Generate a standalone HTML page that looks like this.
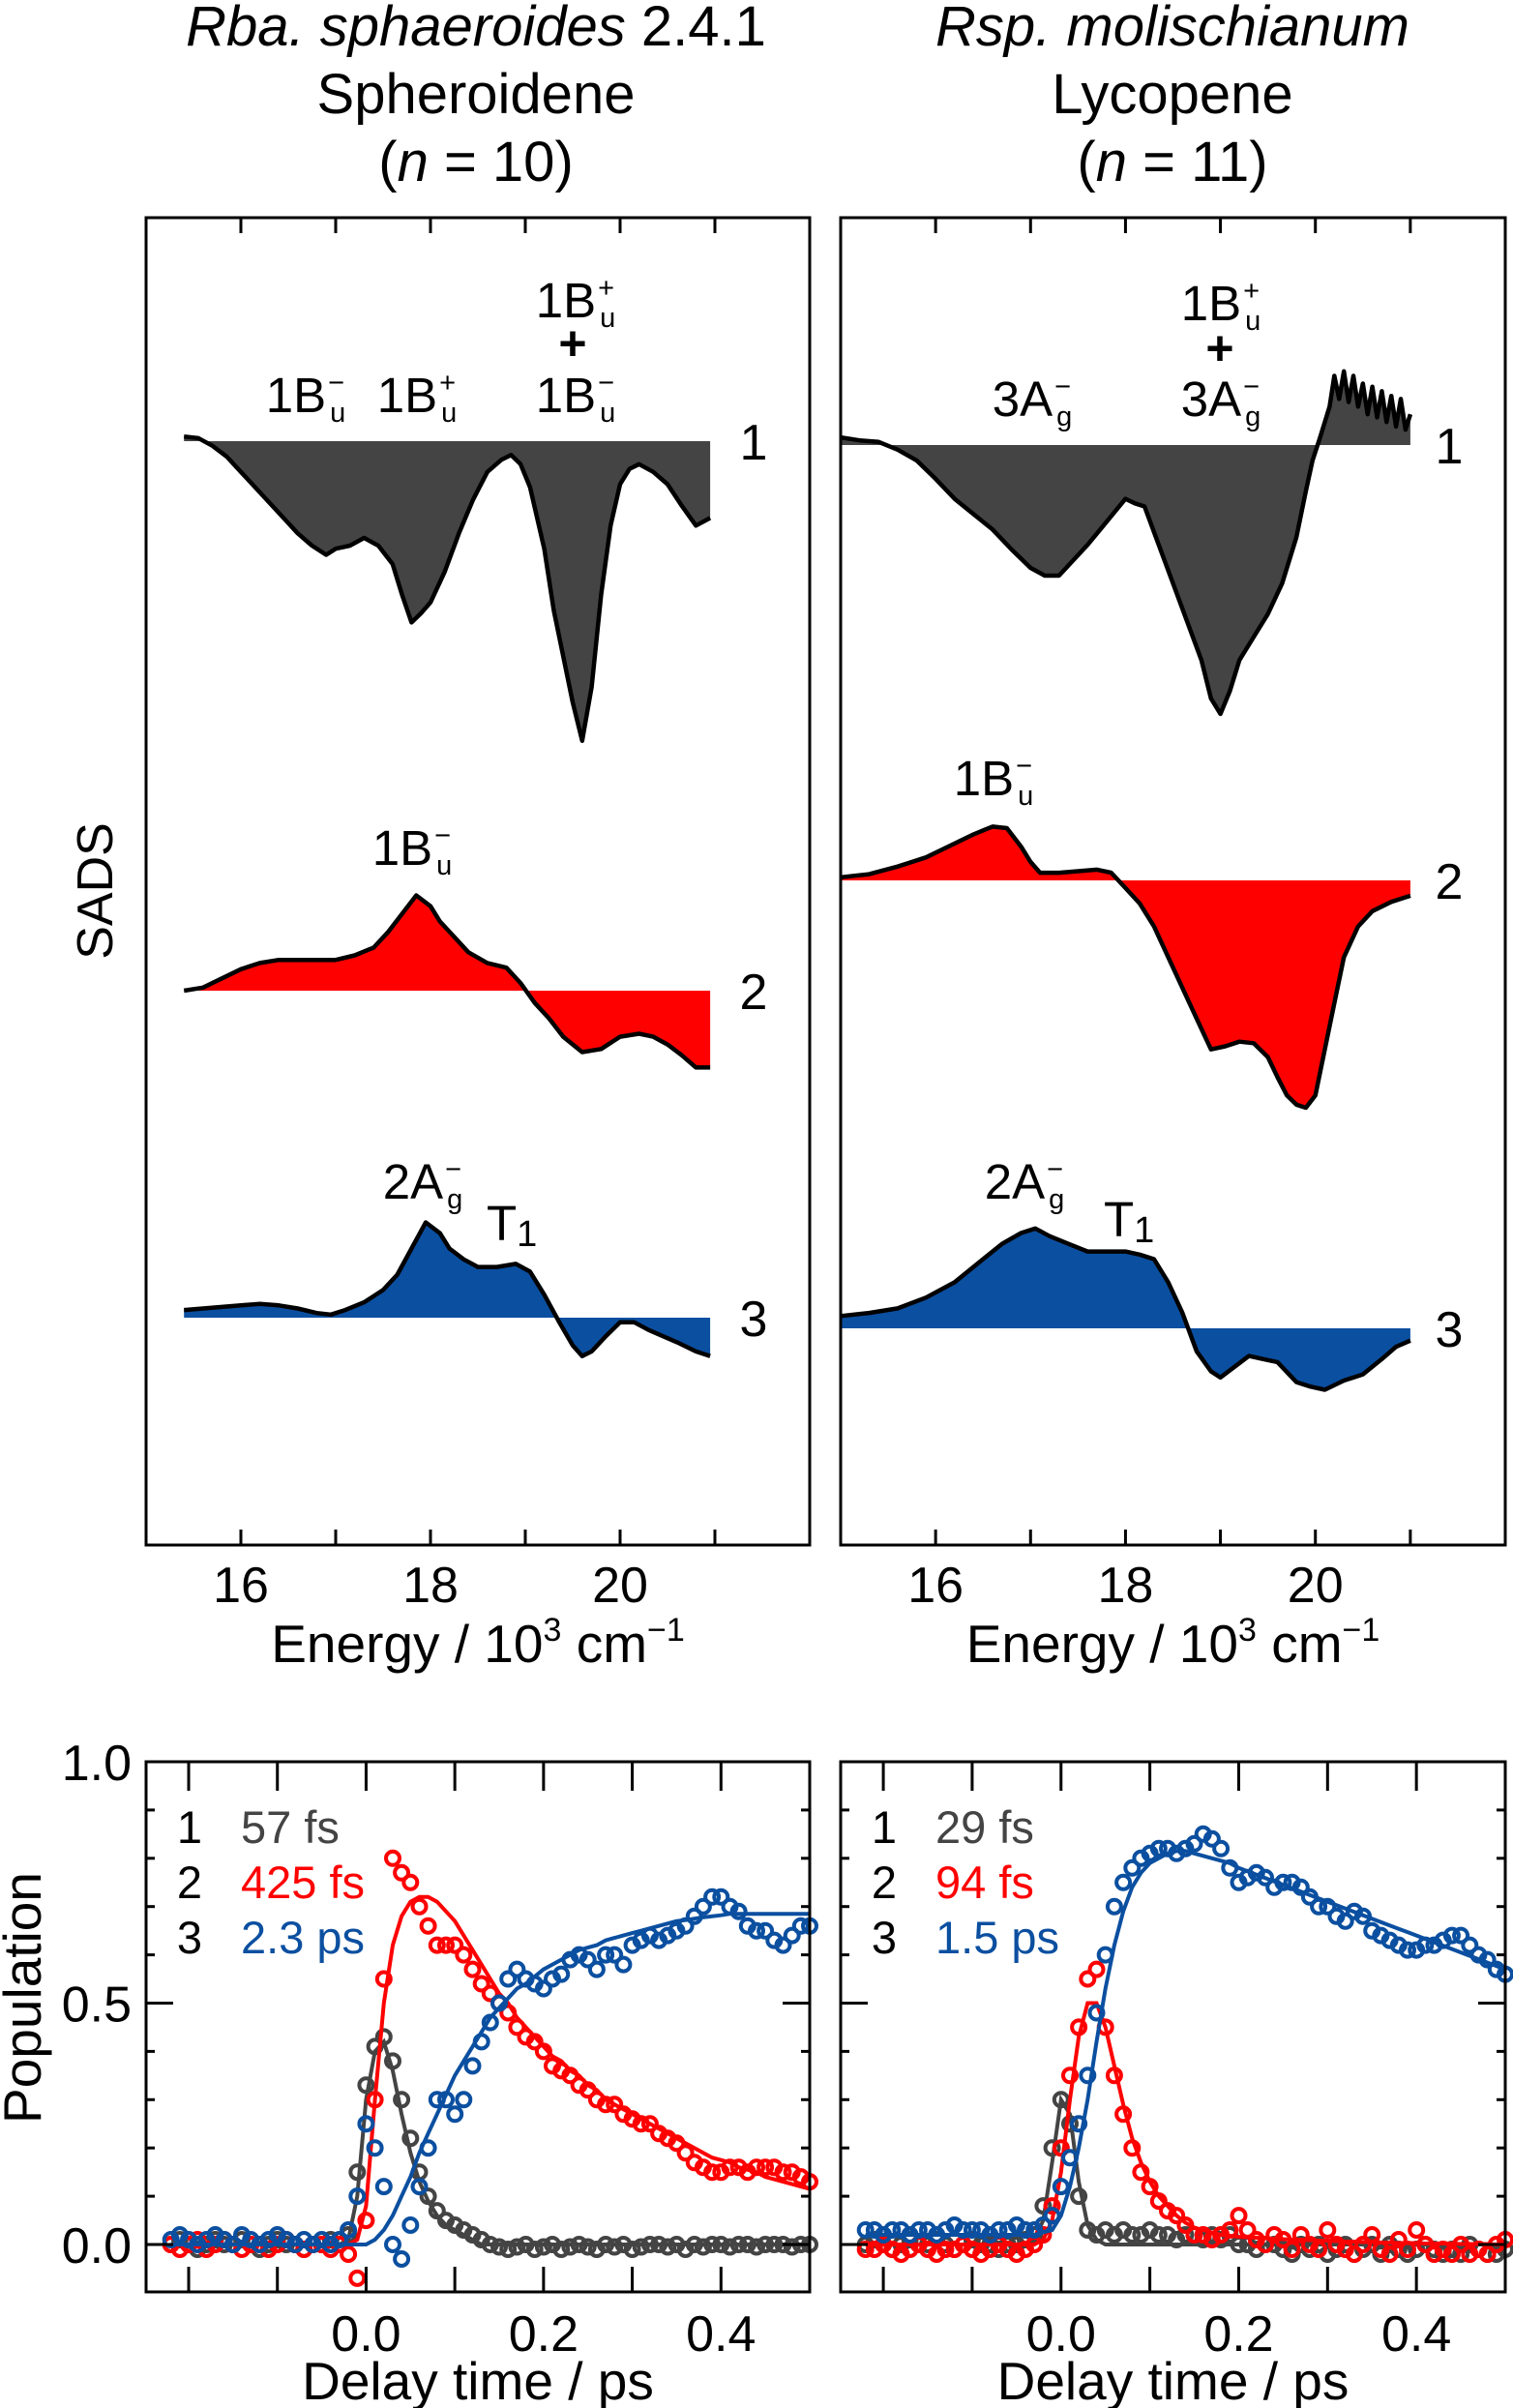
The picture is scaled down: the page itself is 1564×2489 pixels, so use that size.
<!DOCTYPE html>
<html><head><meta charset="utf-8"><style>
body{margin:0;background:#fff}
svg{display:block;font-family:"Liberation Sans",Arial,sans-serif}
</style></head><body>
<svg id="fig" width="1564" height="2489" viewBox="0 0 1564 2489" xmlns="http://www.w3.org/2000/svg">
<g font-size="58" text-anchor="middle">
<text x="492" y="47"><tspan font-style="italic">Rba. sphaeroides</tspan> 2.4.1</text>
<text x="492" y="117">Spheroidene</text>
<text x="492" y="187">(<tspan font-style="italic">n</tspan> = 10)</text>
</g>
<g font-size="58" text-anchor="middle">
<text x="1212" y="47" font-style="italic">Rsp. molischianum</text>
<text x="1212" y="117">Lycopene</text>
<text x="1212" y="187">(<tspan font-style="italic">n</tspan> = 11)</text>
</g>
<g id="plots"></g>
</svg>
<script>
// ===== SADS data (energy in 10^3 cm^-1, amplitude arbitrary units) =====
const L1E=[15.4,15.55,15.7,15.85,16.0,16.15,16.3,16.45,16.6,16.75,16.9,17.0,17.15,17.3,17.45,17.6,17.7,17.8,17.9,18.0,18.15,18.3,18.45,18.6,18.75,18.85,18.95,19.05,19.2,19.3,19.4,19.5,19.6,19.7,19.8,19.9,20.0,20.1,20.2,20.35,20.5,20.65,20.8,20.95];
const L1V=[3,2,-3,-10,-20,-30,-40,-50,-60,-68,-74,-70,-68,-63,-68,-80,-100,-118,-112,-105,-85,-60,-38,-20,-12,-9,-15,-30,-70,-110,-140,-170,-195,-160,-100,-55,-28,-18,-15,-20,-28,-42,-55,-50];
const L2E=[15.4,15.6,15.8,16.0,16.2,16.4,16.6,16.8,17.0,17.2,17.4,17.55,17.7,17.85,18.0,18.1,18.25,18.4,18.6,18.8,18.95,19.1,19.25,19.4,19.6,19.8,20.0,20.2,20.35,20.5,20.65,20.8,20.95];
const L2V=[0,2,8,14,18,20,20,20,20,23,28,38,50,62,55,45,35,25,18,15,5,-8,-18,-30,-40,-38,-30,-28,-30,-35,-42,-50,-50];
const L3E=[15.4,15.6,15.8,16.0,16.2,16.4,16.6,16.8,16.95,17.1,17.3,17.5,17.65,17.8,17.95,18.1,18.2,18.35,18.5,18.7,18.9,19.05,19.2,19.35,19.5,19.6,19.7,19.85,20.0,20.15,20.3,20.45,20.6,20.8,20.95];
const L3V=[5,6,7,8,9,8,6,3,2,5,10,18,28,45,62,55,45,38,33,33,35,30,15,-2,-18,-25,-22,-12,-3,-3,-8,-12,-16,-22,-25];
const R1E=[15.0,15.2,15.4,15.6,15.8,16.0,16.2,16.4,16.6,16.8,17.0,17.15,17.3,17.45,17.6,17.8,18.0,18.1,18.2,18.35,18.5,18.65,18.8,18.9,19.0,19.1,19.2,19.35,19.5,19.65,19.8,19.9,19.97,20.05,20.15,20.2,20.25,20.3,20.35,20.4,20.45,20.5,20.55,20.6,20.65,20.7,20.75,20.8,20.85,20.9,20.95,21.0];
const R1V=[5,3,2,-3,-10,-22,-35,-45,-55,-68,-80,-85,-85,-75,-65,-50,-35,-38,-40,-65,-90,-115,-140,-165,-175,-160,-140,-125,-110,-90,-60,-30,-10,5,25,45,30,48,28,45,25,40,20,38,18,35,15,32,12,30,10,20];
const R2E=[15.0,15.3,15.6,15.9,16.2,16.4,16.6,16.75,16.9,17.0,17.1,17.3,17.5,17.7,17.85,18.0,18.15,18.3,18.45,18.6,18.75,18.9,19.05,19.2,19.35,19.5,19.6,19.7,19.8,19.9,20.0,20.1,20.2,20.3,20.45,20.6,20.8,21.0];
const R2V=[2,4,9,15,24,30,35,34,22,12,5,5,6,7,5,-5,-15,-30,-50,-70,-90,-110,-108,-105,-106,-115,-128,-140,-146,-148,-140,-110,-80,-50,-30,-20,-14,-10];
const R3E=[15.0,15.3,15.6,15.9,16.2,16.5,16.7,16.9,17.05,17.2,17.4,17.6,17.8,18.0,18.15,18.3,18.45,18.6,18.75,18.9,19.0,19.15,19.3,19.45,19.6,19.8,19.95,20.1,20.3,20.5,20.7,20.85,21.0];
const R3V=[8,10,13,20,30,45,55,62,65,60,55,50,50,50,48,45,30,10,-15,-28,-32,-25,-18,-20,-22,-35,-38,-40,-34,-30,-20,-12,-8];

// ===== Population kinetics (delay time, ps) =====
const T=[-0.22,-0.21,-0.2,-0.19,-0.18,-0.17,-0.16,-0.15,-0.14,-0.13,-0.12,-0.11,-0.1,-0.09,-0.08,-0.07,-0.06,-0.05,-0.04,-0.03,-0.02,-0.01,0,0.01,0.02,0.03,0.04,0.05,0.06,0.07,0.08,0.09,0.1,0.11,0.12,0.13,0.14,0.15,0.16,0.17,0.18,0.19,0.2,0.21,0.22,0.23,0.24,0.25,0.26,0.27,0.28,0.29,0.3,0.31,0.32,0.33,0.34,0.35,0.36,0.37,0.38,0.39,0.4,0.41,0.42,0.43,0.44,0.45,0.46,0.47,0.48,0.49,0.5];
const LP1=[0,0.01,0,-0.01,0,0.01,0,0,0.01,0,-0.01,0,0.01,0,0,-0.01,0,0,0.01,0,0.02,0.15,0.33,0.41,0.43,0.38,0.3,0.22,0.15,0.1,0.07,0.05,0.04,0.03,0.02,0.01,0,-0.005,-0.01,-0.005,0,-0.01,-0.005,0,-0.01,-0.005,0,-0.005,-0.01,0,-0.005,0,-0.01,-0.005,0,0,-0.005,0,-0.01,0,-0.005,0,0,-0.005,0,0,-0.005,0,0,0,-0.005,0,0];
const LP2=[0,-0.01,0,0.01,-0.01,0,0.01,0,-0.01,0,0,-0.01,0,0.01,0,-0.01,0,0,-0.01,0,-0.02,-0.07,0.05,0.3,0.55,0.8,0.77,0.75,0.7,0.66,0.62,0.62,0.62,0.6,0.57,0.54,0.52,0.5,0.48,0.45,0.43,0.42,0.4,0.37,0.36,0.35,0.33,0.32,0.3,0.29,0.29,0.27,0.26,0.25,0.25,0.23,0.22,0.21,0.19,0.17,0.16,0.15,0.15,0.16,0.16,0.15,0.16,0.16,0.16,0.15,0.15,0.14,0.13];
const LP3=[0.01,0.02,0.01,0,0.01,0.02,0.01,0,0.02,0.01,0,0.01,0.02,0.01,0,0.01,0,0.01,0,0.01,0.03,0.1,0.25,0.2,0.12,0,-0.03,0.04,0.12,0.2,0.3,0.3,0.27,0.3,0.37,0.42,0.46,0.5,0.55,0.57,0.55,0.54,0.53,0.55,0.56,0.59,0.6,0.59,0.57,0.6,0.6,0.58,0.62,0.63,0.64,0.63,0.64,0.65,0.66,0.68,0.7,0.72,0.72,0.7,0.69,0.66,0.65,0.65,0.63,0.62,0.64,0.66,0.66];
const LF1=[0,0,0,0,0,0,0,0,0,0,0,0,0,0,0,0,0,0,0,0,0.01,0.1,0.3,0.4,0.42,0.36,0.27,0.19,0.13,0.09,0.06,0.04,0.03,0.02,0.01,0,0,0,0,0,0,0,0,0,0,0,0,0,0,0,0,0,0,0,0,0,0,0,0,0,0,0,0,0,0,0,0,0,0,0,0,0,0];
const LF2=[0,0,0,0,0,0,0,0,0,0,0,0,0,0,0,0,0,0,0,0,0,0.01,0.08,0.3,0.5,0.62,0.68,0.71,0.72,0.72,0.71,0.69,0.67,0.64,0.61,0.58,0.55,0.52,0.5,0.47,0.45,0.43,0.41,0.39,0.38,0.36,0.35,0.33,0.32,0.3,0.29,0.28,0.27,0.26,0.25,0.24,0.23,0.22,0.21,0.2,0.19,0.18,0.175,0.17,0.16,0.155,0.15,0.14,0.135,0.13,0.125,0.12,0.115];
const LF3=[0,0,0,0,0,0,0,0,0,0,0,0,0,0,0,0,0,0,0,0,0,0,0,0.01,0.03,0.06,0.1,0.14,0.19,0.23,0.27,0.31,0.35,0.38,0.41,0.44,0.47,0.49,0.51,0.53,0.54,0.555,0.57,0.58,0.59,0.6,0.61,0.615,0.62,0.63,0.635,0.64,0.645,0.65,0.655,0.66,0.665,0.67,0.672,0.675,0.678,0.68,0.682,0.685,0.685,0.685,0.685,0.685,0.685,0.685,0.685,0.685,0.685];
const RP1=[0,0.01,0,-0.01,0,0.01,0,0,0.01,0,-0.01,0,0.01,0,0,-0.01,0,0,0.01,0.02,0.08,0.2,0.3,0.25,0.1,0.03,0.02,0.03,0.02,0.03,0.02,0.02,0.03,0.02,0.02,0.01,0.02,0.02,0.01,0.02,0.01,0.02,0,0,-0.01,0,0,-0.01,-0.02,0,-0.01,0,-0.02,-0.01,0,-0.02,-0.01,0,-0.02,0,-0.01,-0.02,-0.01,0,-0.01,-0.02,-0.01,-0.02,0,-0.01,-0.02,-0.02,-0.01];
const RP2=[-0.01,-0.01,0,-0.01,-0.02,-0.01,0,-0.01,-0.02,-0.01,-0.01,0,-0.01,-0.02,-0.01,0,-0.01,-0.02,-0.01,0,0.02,0.08,0.2,0.35,0.45,0.55,0.57,0.45,0.35,0.27,0.2,0.15,0.12,0.09,0.07,0.06,0.04,0.02,0.02,0.01,0.02,0.03,0.06,0.03,0.01,0,0.02,0.01,-0.01,0.02,0,-0.01,0.03,0,-0.01,-0.02,0,0.02,-0.01,-0.02,0.01,-0.01,0.03,0,-0.02,-0.01,-0.02,0,-0.02,-0.01,-0.02,0,0.01];
const RP3=[0.03,0.03,0.02,0.03,0.03,0.02,0.03,0.03,0.02,0.03,0.04,0.03,0.03,0.03,0.02,0.03,0.03,0.04,0.03,0.03,0.04,0.06,0.12,0.18,0.25,0.35,0.48,0.6,0.7,0.75,0.78,0.8,0.81,0.82,0.82,0.81,0.82,0.83,0.85,0.84,0.82,0.78,0.75,0.76,0.77,0.76,0.74,0.75,0.75,0.74,0.72,0.7,0.7,0.68,0.67,0.69,0.68,0.65,0.64,0.63,0.62,0.61,0.61,0.62,0.62,0.63,0.64,0.64,0.62,0.6,0.59,0.57,0.56];
const RF1=[0,0,0,0,0,0,0,0,0,0,0,0,0,0,0,0,0,0,0,0.01,0.05,0.17,0.3,0.27,0.13,0.04,0.01,0,0,0,0,0,0,0,0,0,0,0,0,0,0,0,0,0,0,0,0,0,0,0,0,0,0,0,0,0,0,0,0,0,0,0,0,0,0,0,0,0,0,0,0,0,0];
const RF2=[0,0,0,0,0,0,0,0,0,0,0,0,0,0,0,0,0,0,0,0,0.01,0.05,0.15,0.3,0.43,0.5,0.5,0.45,0.37,0.29,0.22,0.17,0.13,0.1,0.08,0.06,0.045,0.035,0.03,0.025,0.02,0.018,0.016,0.015,0.014,0.013,0.012,0.011,0.01,0.01,0.009,0.008,0.008,0.007,0.006,0.006,0.005,0.005,0.004,0.004,0.003,0.003,0.003,0.002,0.002,0.002,0.002,0.001,0.001,0.001,0.001,0,0];
const RF3=[0.02,0.02,0.02,0.02,0.02,0.02,0.02,0.02,0.02,0.02,0.02,0.02,0.02,0.02,0.02,0.02,0.02,0.02,0.02,0.02,0.025,0.03,0.06,0.12,0.2,0.3,0.42,0.53,0.62,0.69,0.74,0.77,0.79,0.8,0.81,0.815,0.815,0.81,0.805,0.8,0.795,0.79,0.78,0.773,0.766,0.759,0.752,0.745,0.738,0.731,0.724,0.717,0.71,0.703,0.696,0.689,0.682,0.675,0.668,0.661,0.654,0.647,0.64,0.633,0.626,0.619,0.612,0.605,0.598,0.591,0.584,0.577,0.57];

const NS='http://www.w3.org/2000/svg';
const root=document.getElementById('plots');
function el(tag,attrs,parent){const e=document.createElementNS(NS,tag);for(const k in attrs)e.setAttribute(k,attrs[k]);(parent||root).appendChild(e);return e;}
function txt(s,x,y,size,attrs,parent){const t=el('text',Object.assign({x:x,y:y,'font-size':size},attrs||{}),parent);t.textContent=s;return t;}

const GRAY='#444444',RED='#ff0000',BLUE='#0b4fa0';
const SC=1.588;

// ---- SADS panel ----
function sadsPanel(name,x0,x1,baselines,series,tickStart){
  const g=el('g',{});
  
  
  const y0=225,y1=1597;
  const xs=e=>x0+(e-15)*(x1-x0)/7.0;
  series.forEach((s,i)=>{
    const base=baselines[i];
    const ys=v=>base-v*SC;
    let pts=s.E.map((e,j)=>xs(e).toFixed(1)+','+ys(s.V[j]).toFixed(1));
    const sg=el('g',{},g);
    
    
    const poly=el('polygon',{points:xs(s.E[0]).toFixed(1)+','+base+' '+pts.join(' ')+' '+xs(s.E[s.E.length-1]).toFixed(1)+','+base,fill:s.c,stroke:'none'},sg);
    
    
    const ln=el('polyline',{points:pts.join(' '),fill:'none',stroke:'#000','stroke-width':4.5,'stroke-linejoin':'round'},sg);
    
    
    const lab=txt(String(i+1),x1-58,base+19,52,{'text-anchor':'middle'},g);
    
    
  });
  const fr=el('rect',{x:x0,y:y0,width:x1-x0,height:y1-y0,fill:'none',stroke:'#000','stroke-width':3},g);
  
  
  for(let e=tickStart;e<=21;e++){
    const X=xs(e);
    el('line',{x1:X,y1:y0,x2:X,y2:y0+16,stroke:'#000','stroke-width':3},g);
    el('line',{x1:X,y1:y1,x2:X,y2:y1-16,stroke:'#000','stroke-width':3},g);
    if(e%2===0){const t=txt(String(e),X,1656,52,{'text-anchor':'middle'},g);
      
      }
  }
  const xt=el('text',{x:(x0+x1)/2,y:1718,'font-size':55,'text-anchor':'middle'},g);
  
  
  xt.innerHTML='Energy / 10<tspan dy="-22" font-size="34">3</tspan><tspan dy="22"> cm</tspan><tspan dy="-22" font-size="34">−1</tspan>';
  return g;
}
function stateLabel(main,sup,sub,cx,y,g,name){
  const t=el('text',{x:cx,y:y,'font-size':51,'text-anchor':'middle'},g);
  
  
  t.innerHTML=main+'<tspan font-size="29" dx="2" dy="-21">'+sup+'</tspan><tspan font-size="29" dx="-15" dy="31">'+sub+'</tspan>';
}

const gL=sadsPanel('sads-panel-spheroidene',151,837,[456,1024,1362],[{E:L1E,V:L1V,c:GRAY},{E:L2E,V:L2V,c:RED},{E:L3E,V:L3V,c:BLUE}],16);
const gR=sadsPanel('sads-panel-lycopene',869,1556,[460,910,1373],[{E:R1E,V:R1V,c:GRAY},{E:R2E,V:R2V,c:RED},{E:R3E,V:R3V,c:BLUE}],15);
stateLabel('1B','−','u',316,426,gL,'label-1bu-minus');
stateLabel('1B','+','u',431,426,gL,'label-1bu-plus');
stateLabel('1B','+','u',595,328,gL,'label-1bu-plus-top');
txt('+',592,372,50,{'text-anchor':'middle','font-weight':'bold'},gL);
stateLabel('1B','−','u',595,426,gL,'label-1bu-minus-bottom');
stateLabel('1B','−','u',426,894,gL,'label-trace2-1bu');
stateLabel('2A','−','g',437,1239,gL,'label-2ag');
const t1=el('text',{x:503,y:1282,'font-size':51},gL);


t1.innerHTML='T<tspan font-size="38" dy="6">1</tspan>';
stateLabel('3A','−','g',1067,430,gR,'label-3ag');
stateLabel('1B','+','u',1262,331,gR,'label-1bu-plus-right');
txt('+',1261,377,50,{'text-anchor':'middle','font-weight':'bold'},gR);
stateLabel('3A','−','g',1262,430,gR,'label-3ag-bottom');
stateLabel('1B','−','u',1027,822,gR,'label-trace2-1bu-right');
stateLabel('2A','−','g',1059,1239,gR,'label-2ag-right');
const t2=el('text',{x:1141,y:1278,'font-size':51},gR);


t2.innerHTML='T<tspan font-size="38" dy="6">1</tspan>';
const yl=txt('SADS',0,0,52,{'text-anchor':'middle',transform:'translate(116,921) rotate(-90)'});



// ---- Population panels ----
function popPanel(name,x0,x1,series,legend,yLabels){
  const g=el('g',{});
  
  
  const y0=1821,y1=2369;
  const xs=t=>x0+(t+0.248)*(x1-x0)/0.748;
  const ys=v=>2320-v*499;
  series.forEach((s,i)=>{
    const sg=el('g',{},g);
    
    
    T.forEach((t,j)=>{
      const c=el('circle',{cx:xs(t).toFixed(1),cy:ys(s.P[j]).toFixed(1),r:7,fill:'none',stroke:s.c,'stroke-width':4},sg);
      
      
    });
    const ln=el('polyline',{points:T.map((t,j)=>xs(t).toFixed(1)+','+ys(s.F[j]).toFixed(1)).join(' '),fill:'none',stroke:s.c,'stroke-width':4},sg);
    
    
  });
  const fr=el('rect',{x:x0,y:y0,width:x1-x0,height:y1-y0,fill:'none',stroke:'#000','stroke-width':3},g);
  
  
  const xTicks=[-0.2,-0.1,0,0.1,0.2,0.3,0.4];
  xTicks.forEach(t=>{const X=xs(t);
    el('line',{x1:X,y1:y0,x2:X,y2:y0+30,stroke:'#000','stroke-width':3},g);
    el('line',{x1:X,y1:y1,x2:X,y2:y1-26,stroke:'#000','stroke-width':3},g);});
  ['0.0','0.2','0.4'].forEach(s=>{const t=txt(s,xs(parseFloat(s)),2430,52,{'text-anchor':'middle'},g);
    
    });
  for(let k=0;k<=10;k++){const v=k/10,Y=ys(v),L=(k===5||k===0)?28:9;
    el('line',{x1:x0,y1:Y,x2:x0+L,y2:Y,stroke:'#000','stroke-width':3},g);
    el('line',{x1:x1,y1:Y,x2:x1-L,y2:Y,stroke:'#000','stroke-width':3},g);}
  if(yLabels){['0.0','0.5','1.0'].forEach(s=>{const t=txt(s,136,ys(parseFloat(s))+19,52,{'text-anchor':'end'},g);
    
    });}
  legend.forEach((L,i)=>{
    const y=1905+i*57;
    const n=txt(String(i+1),x0+45,y,47,{'text-anchor':'middle'},g);
    
    
    const v=txt(L,x0+98,y,47,{fill:series[i].c},g);
    
    
  });
  const xt=txt('Delay time / ps',(x0+x1)/2,2480,55,{'text-anchor':'middle'},g);
  
  
}
popPanel('population-panel-spheroidene',151,837,[{P:LP1,F:LF1,c:GRAY},{P:LP2,F:LF2,c:RED},{P:LP3,F:LF3,c:BLUE}],['57 fs','425 fs','2.3 ps'],true);
popPanel('population-panel-lycopene',869,1556,[{P:RP1,F:RF1,c:GRAY},{P:RP2,F:RF2,c:RED},{P:RP3,F:RF3,c:BLUE}],['29 fs','94 fs','1.5 ps'],false);
const pl=txt('Population',0,0,55,{'text-anchor':'middle',transform:'translate(42,2065) rotate(-90)'});


</script>
</body></html>
